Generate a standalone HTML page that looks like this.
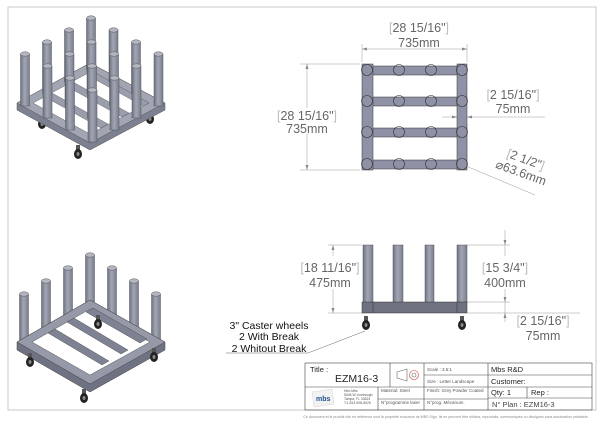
<!DOCTYPE html>
<html><head><meta charset="utf-8"><style>
html,body{margin:0;padding:0;background:#fff}
svg{display:block}
text{font-family:"Liberation Sans",sans-serif}
</style></head><body>
<svg width="600" height="424" viewBox="0 0 600 424" xmlns="http://www.w3.org/2000/svg">
<defs>
<linearGradient id="pg" x1="0" x2="1" y1="0" y2="0">
<stop offset="0" stop-color="#6f7382"/><stop offset="0.45" stop-color="#a3a6b3"/><stop offset="1" stop-color="#7a7e8c"/>
</linearGradient>
<g id="post"><rect x="-4.5" y="-52" width="9" height="52" fill="url(#pg)" stroke="#55585f" stroke-width="0.5"/><ellipse cx="0" cy="-52" rx="4.5" ry="2.2" fill="#b4b6c0" stroke="#55585f" stroke-width="0.5"/></g>
<g id="post2"><rect x="-4.5" y="0" width="9" height="52" fill="url(#pg)" stroke="#55585f" stroke-width="0.5"/><ellipse cx="0" cy="0" rx="4.5" ry="2.2" fill="#b4b6c0" stroke="#55585f" stroke-width="0.5"/></g>
<g id="cast"><rect x="-2" y="-7" width="4" height="5" fill="#555"/><ellipse cx="0" cy="2" rx="4" ry="5" fill="#222"/><ellipse cx="0" cy="2" rx="1.5" ry="2" fill="#888"/></g>
</defs>
<rect x="8" y="7" width="588" height="403" fill="none" stroke="#bbb" stroke-width="0.8"/>

<!-- Top iso view -->
<use href="#cast" x="42" y="122"/><use href="#cast" x="150" y="117"/><use href="#cast" x="78" y="152"/>
<polygon points="17,103 90,63 165,103 165,110 90,150 17,110" fill="#7d8090" stroke="#555" stroke-width="0.5"/>
<polygon points="17,103 90,63 165,103 90,143" fill="#a2a5b2" stroke="#555" stroke-width="0.5"/>
<polygon points="33,103 90,72 149,103 90,134" fill="#fff" stroke="#666" stroke-width="0.5"/>
<polygon points="45,97 101,128 108,124 52,93" fill="#9a9dab" stroke="#555" stroke-width="0.4"/>
<polygon points="66,86 122,117 129,113 73,82" fill="#9a9dab" stroke="#555" stroke-width="0.4"/>
<polygon points="87,75 143,106 149,103 94,72" fill="#9a9dab" stroke="#555" stroke-width="0.4"/>
<use href="#post" x="91" y="70"/>
<use href="#post" x="113.5" y="82"/><use href="#post" x="69" y="82"/>
<use href="#post" x="136" y="94"/><use href="#post" x="91.5" y="94"/><use href="#post" x="47" y="94"/>
<use href="#post" x="158.5" y="106"/><use href="#post" x="114" y="106"/><use href="#post" x="69.5" y="106"/><use href="#post" x="25" y="106"/>
<use href="#post" x="136.5" y="118"/><use href="#post" x="92" y="118"/><use href="#post" x="47.5" y="118"/>
<use href="#post" x="114.5" y="130"/><use href="#post" x="70" y="130"/>
<use href="#post" x="92.5" y="142"/>

<!-- Bottom iso view -->
<use href="#post2" x="90" y="255"/>
<use href="#post2" x="68" y="268"/><use href="#post2" x="112" y="268"/>
<use href="#post2" x="46" y="281"/><use href="#post2" x="134" y="281"/>
<use href="#post2" x="24" y="294"/><use href="#post2" x="156" y="294"/>
<polygon points="17,342 90,300 165,342 165,350 90,392 17,350" fill="#6f7282" stroke="#444" stroke-width="0.5"/>
<polygon points="17,342 90,300 165,342 90,384" fill="#9699a8" stroke="#444" stroke-width="0.5"/>
<polygon points="32,342 90,309 150,342 90,375" fill="#fff" stroke="#555" stroke-width="0.5"/>
<polygon points="48,333 102,365 109,361 55,329" fill="#7f8292" stroke="#444" stroke-width="0.4"/>
<polygon points="67,322 121,354 128,350 74,318" fill="#7f8292" stroke="#444" stroke-width="0.4"/>
<polygon points="86,312 140,343 147,339 93,308" fill="#7f8292" stroke="#444" stroke-width="0.4"/>
<use href="#cast" x="98" y="322"/><use href="#cast" x="30" y="360"/><use href="#cast" x="154" y="355"/><use href="#cast" x="84" y="396"/>

<!-- Top view -->
<g stroke="#999" stroke-width="0.5" fill="none">
<line x1="362" y1="44" x2="362" y2="62"/><line x1="467" y1="44" x2="467" y2="62"/>
<line x1="362" y1="49" x2="467" y2="49"/>
<line x1="300" y1="64" x2="360" y2="64"/><line x1="300" y1="170" x2="360" y2="170"/>
<line x1="307" y1="64" x2="307" y2="108"/><line x1="307" y1="133" x2="307" y2="170"/>
<line x1="442" y1="117" x2="545" y2="117"/>
<line x1="467" y1="160" x2="467" y2="124"/>
<line x1="466" y1="166" x2="535" y2="195"/>
</g>
<g fill="#888"><polygon points="362,49 367,47.5 367,50.5"/><polygon points="467,49 462,47.5 462,50.5"/>
<polygon points="307,64 305.5,69 308.5,69"/><polygon points="307,170 305.5,165 308.5,165"/>
<polygon points="457,117 452,115.5 452,118.5"/><polygon points="467,117 472,115.5 472,118.5"/></g>
<g fill="#8f92a6" stroke="#333" stroke-width="0.5">
<rect x="367" y="66" width="96" height="9"/><rect x="367" y="97" width="96" height="9"/>
<rect x="367" y="128" width="96" height="9"/><rect x="367" y="160" width="96" height="9"/>
<rect x="362" y="64" width="11" height="106"/><rect x="457" y="64" width="10" height="106"/>
</g>
<g fill="none" stroke="#333" stroke-width="0.6">
<circle cx="367" cy="70" r="5.5"/><circle cx="399" cy="70" r="5.5"/><circle cx="431" cy="70" r="5.5"/><circle cx="462" cy="70" r="5.5"/>
<circle cx="367" cy="101" r="5.5"/><circle cx="399" cy="101" r="5.5"/><circle cx="431" cy="101" r="5.5"/><circle cx="462" cy="101" r="5.5"/>
<circle cx="367" cy="132" r="5.5"/><circle cx="399" cy="132" r="5.5"/><circle cx="431" cy="132" r="5.5"/><circle cx="462" cy="132" r="5.5"/>
<circle cx="367" cy="164" r="5.5"/><circle cx="399" cy="164" r="5.5"/><circle cx="431" cy="164" r="5.5"/><circle cx="462" cy="164" r="5.5"/>
</g>
<g fill="#666" font-size="12.5" text-anchor="middle">
<text x="419" y="32"><tspan fill="#bbb">[</tspan>28 15/16"<tspan fill="#bbb">]</tspan></text>
<text x="419" y="47">735mm</text>
<text x="307" y="120"><tspan fill="#bbb">[</tspan>28 15/16"<tspan fill="#bbb">]</tspan></text>
<text x="307" y="133">735mm</text>
<text x="513" y="99"><tspan fill="#bbb">[</tspan>2 15/16"<tspan fill="#bbb">]</tspan></text>
<text x="513" y="113">75mm</text>
<g transform="translate(522,170) rotate(20)"><text x="0" y="-7"><tspan fill="#bbb">[</tspan>2 1/2"<tspan fill="#bbb">]</tspan></text><text x="0" y="7">⌀63.6mm</text></g>
</g>

<!-- Front view -->
<g stroke="#999" stroke-width="0.5" fill="none">
<line x1="328" y1="245" x2="362" y2="245"/><line x1="328" y1="313" x2="362" y2="313"/>
<line x1="333" y1="245" x2="333" y2="256"/><line x1="333" y1="289" x2="333" y2="313"/>
<line x1="467" y1="245" x2="510" y2="245"/><line x1="467" y1="302" x2="510" y2="302"/><line x1="467" y1="313" x2="580" y2="313"/>
<line x1="505" y1="230" x2="505" y2="256"/><line x1="505" y1="289" x2="505" y2="322"/>
</g>
<g fill="#888"><polygon points="333,245 331.5,250 334.5,250"/><polygon points="333,313 331.5,308 334.5,308"/>
<polygon points="505,245 503.5,240 506.5,240"/><polygon points="505,302 503.5,297 506.5,297"/><polygon points="505,313 503.5,318 506.5,318"/></g>
<g fill="url(#pg)" stroke="#55585f" stroke-width="0.5">
<rect x="363" y="245" width="10" height="58"/><rect x="393" y="245" width="10" height="58"/>
<rect x="425" y="245" width="9" height="58"/><rect x="457" y="245" width="10" height="58"/>
</g>
<rect x="362" y="302" width="105" height="11" fill="#6e7180" stroke="#333" stroke-width="0.5"/>
<line x1="373" y1="302" x2="373" y2="313" stroke="#333" stroke-width="0.5"/><line x1="457" y1="302" x2="457" y2="313" stroke="#333" stroke-width="0.5"/>
<use href="#cast" x="366" y="323"/><use href="#cast" x="462" y="323"/>
<g fill="#666" font-size="12.5" text-anchor="middle">
<text x="330" y="272"><tspan fill="#bbb">[</tspan>18 11/16"<tspan fill="#bbb">]</tspan></text>
<text x="330" y="287">475mm</text>
<text x="505" y="272"><tspan fill="#bbb">[</tspan>15 3/4"<tspan fill="#bbb">]</tspan></text>
<text x="505" y="287">400mm</text>
<text x="543" y="325"><tspan fill="#bbb">[</tspan>2 15/16"<tspan fill="#bbb">]</tspan></text>
<text x="543" y="340">75mm</text>
</g>
<g fill="#111" font-size="10.5" text-anchor="middle">
<text x="269" y="329">3" Caster wheels</text>
<text x="269" y="340">2 With Break</text>
<text x="269" y="352">2 Whitout Break</text>
</g>
<polyline points="226,353 308,353 365,331" fill="none" stroke="#666" stroke-width="0.5"/>

<!-- Title block -->
<g fill="none" stroke="#444" stroke-width="0.6">
<rect x="305" y="363" width="287" height="47"/>
<line x1="390" y1="363" x2="390" y2="387"/><line x1="424" y1="363" x2="424" y2="410"/>
<line x1="488" y1="363" x2="488" y2="410"/><line x1="378" y1="387" x2="378" y2="410"/>
<line x1="305" y1="387" x2="592" y2="387"/><line x1="424" y1="375" x2="592" y2="375"/>
<line x1="378" y1="399" x2="488" y2="399"/><line x1="488" y1="398" x2="592" y2="398"/>
<line x1="527" y1="387" x2="527" y2="398"/>
</g>
<text x="310" y="372" font-size="7.5" fill="#222">Title :</text>
<text x="335" y="382" font-size="10.5" fill="#222">EZM16-3</text>
<polygon points="397,372 407,369 407,381 397,378" fill="none" stroke="#666" stroke-width="0.6"/>
<circle cx="414" cy="375" r="4.5" fill="none" stroke="#c33" stroke-width="0.6"/><circle cx="414" cy="375" r="2" fill="none" stroke="#666" stroke-width="0.6"/>
<g font-size="4.5" fill="#555">
<text x="427" y="371">Scale : 3.5:1</text><text x="427" y="383">Size : Letter Landscape</text>
<text x="381" y="392">Material: Steel</text><text x="381" y="404">N°programme laser</text>
<text x="427" y="392">Finish: Grey Powder Coated</text><text x="427" y="404">N°prog. Mécanum.</text>
</g>
<g font-size="3.4" fill="#555">
<text x="344" y="392">Him-Mbs</text><text x="344" y="396">5046 W Linebaugh</text><text x="344" y="400">Tampa, FL 33624</text><text x="344" y="404">T:1-813-908-8025</text>
</g>
<g font-size="7.5" fill="#222">
<text x="491" y="372">Mbs R&amp;D</text><text x="491" y="384">Customer:</text>
<text x="491" y="395">Qty: 1</text><text x="531" y="395">Rep :</text>
<text x="492" y="407" fill="#444">N° Plan : EZM16-3</text>
</g>
<polygon points="312,392 332,389 334,404 314,407" fill="#f2f2f2" stroke="#ccc" stroke-width="0.4"/>
<text x="316" y="401" font-size="7" font-weight="bold" fill="#1d4f8f">mbs</text>
<text x="446" y="418" font-size="3.6" fill="#888" text-anchor="middle">Ce document et le produit cité en référence sont la propriété exclusive de MBS Sign. Ils ne peuvent être utilisés, reproduits, communiqués ou divulgués sans autorisation préalable.</text>
</svg>
</body></html>
